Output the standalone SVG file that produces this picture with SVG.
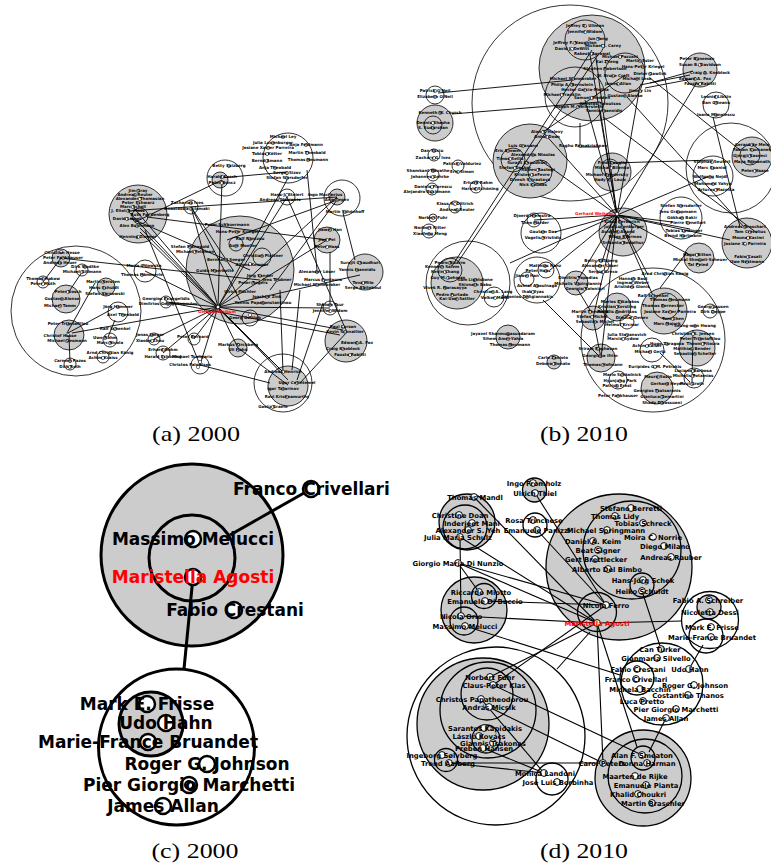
<svg xmlns="http://www.w3.org/2000/svg" xmlns:xlink="http://www.w3.org/1999/xlink" width="771" height="865" viewBox="0 0 771 865">
<style>
.ga{fill:#cccccc;stroke:#000;stroke-width:0.8}
.wa{fill:none;stroke:#000;stroke-width:0.8}
.ea path{fill:none;stroke:#000;stroke-width:0.9}
.gd{fill:#cccccc;stroke:#000;stroke-width:1.3}
.wd{fill:none;stroke:#000;stroke-width:1.3}
.ed path{fill:none;stroke:#000;stroke-width:1.1}
.gc{fill:#cccccc;stroke:#000;stroke-width:3}
.wc{fill:none;stroke:#000;stroke-width:3}
.ec path{fill:none;stroke:#000;stroke-width:3}
.s{font-family:"DejaVu Sans",sans-serif;font-weight:bold;font-size:4px;text-anchor:middle;fill:#000}
.m{font-family:"DejaVu Sans",sans-serif;font-weight:bold;font-size:6.8px;text-anchor:middle;fill:#000}
.l{font-family:"DejaVu Sans",sans-serif;font-weight:bold;font-size:17px;text-anchor:middle;fill:#000}
.red{fill:#ff0000}
.cap{font-family:"Liberation Serif","Times New Roman",serif;font-size:22px;text-anchor:middle;fill:#000}
</style>
<defs>
<circle id="n4" r="1.7" fill="#fff" stroke="#000" stroke-width="0.5"/>
<circle id="n7" r="3.4" fill="#fff" stroke="#000" stroke-width="1"/>
<circle id="n17" r="8" fill="#fff" stroke="#000" stroke-width="2.5"/>
</defs>
<rect width="771" height="865" fill="#fff"/>

<!-- ================= PANEL A ================= -->
<g id="panel-a">
<g id="a-cluster-shapes">
<circle class="wa" cx="76" cy="311" r="65"/>
<circle class="ga" cx="61" cy="258" r="9"/>
<circle class="ga" cx="66" cy="299" r="14"/>
<circle class="ga" cx="69" cy="335" r="15"/>
<circle class="ga" cx="106" cy="287" r="9"/>
<circle class="wa" cx="118" cy="312" r="10"/>
<circle class="wa" cx="43" cy="282" r="6"/>
<circle class="wa" cx="82" cy="270" r="6"/>
<circle class="wa" cx="110" cy="340" r="7"/>
<circle class="wa" cx="103" cy="357" r="6"/>
<circle class="wa" cx="70" cy="364" r="6"/>
<circle class="ga" cx="138" cy="214" r="29"/>
<circle class="wa" cx="140" cy="216" r="8"/>
<circle class="wa" cx="145" cy="271" r="11"/>
<circle class="wa" cx="166" cy="302" r="6"/>
<circle class="ga" cx="240" cy="270" r="54"/>
<circle class="wa" cx="262" cy="257" r="9"/>
<circle class="wa" cx="236" cy="244" r="7"/>
<circle class="wa" cx="250" cy="318" r="8"/>
<circle class="wa" cx="288" cy="158" r="25"/>
<circle class="wa" cx="225" cy="178" r="18"/>
<circle class="ga" cx="220" cy="180" r="8"/>
<circle class="wa" cx="342" cy="198" r="18"/>
<circle class="ga" cx="337" cy="197" r="8"/>
<circle class="wa" cx="287" cy="197" r="8"/>
<circle class="wa" cx="191" cy="207" r="7"/>
<circle class="ga" cx="327" cy="240" r="13"/>
<circle class="ga" cx="365" cy="272" r="18"/>
<circle class="ga" cx="346" cy="341" r="21"/>
<circle class="wa" cx="283" cy="383" r="29"/>
<circle class="ga" cx="288" cy="386" r="20"/>
<circle class="ga" cx="238" cy="348" r="9"/>
<circle class="wa" cx="163" cy="353" r="7"/>
<circle class="wa" cx="200" cy="365" r="9"/>
<circle class="wa" cx="154" cy="339" r="6"/>
<circle class="wa" cx="194" cy="339" r="6"/>
<circle class="wa" cx="330" cy="308" r="7"/>
</g>
<g id="a-connectors" class="ea">
<path d="M218,307 L128,211"/><path d="M218,307 L133,207"/><path d="M218,307 L140,228"/>
<path d="M218,307 L222,180"/><path d="M218,307 L191,207"/><path d="M218,307 L287,197"/>
<path d="M218,307 L288,178"/><path d="M218,307 L337,197"/><path d="M218,307 L327,240"/>
<path d="M218,307 L360,275"/><path d="M218,307 L343,330"/><path d="M218,307 L288,380"/>
<path d="M218,307 L283,372"/><path d="M218,307 L238,348"/><path d="M218,307 L200,365"/>
<path d="M218,307 L163,353"/><path d="M218,307 L166,302"/><path d="M218,307 L145,271"/>
<path d="M218,307 L72,333"/><path d="M218,307 L330,308"/><path d="M218,307 L194,339"/>
<path d="M60,258 L260,280"/><path d="M145,230 L200,365"/><path d="M130,218 L250,270"/>
<path d="M147,217 L327,240"/><path d="M68,333 L114,308"/><path d="M95,283 L67,333"/>
<path d="M82,272 L70,290"/><path d="M61,258 L43,282"/><path d="M115,320 L108,337"/>
<path d="M69,335 L70,363"/><path d="M220,178 L287,172"/><path d="M191,207 L240,300"/>
<path d="M191,207 L233,270"/><path d="M287,197 L346,330"/><path d="M337,200 L227,240"/>
<path d="M337,200 L270,290"/><path d="M343,213 L355,260"/><path d="M307,170 L317,270"/>
<path d="M140,232 L283,372"/><path d="M166,302 L340,335"/><path d="M283,372 L280,290"/>
<path d="M292,370 L300,290"/><path d="M297,380 L323,303"/><path d="M347,332 L300,383"/>
<path d="M238,348 L288,385"/><path d="M200,365 L270,383"/><path d="M330,252 L330,305"/>
<path d="M128,211 L337,197"/><path d="M135,222 L222,180"/><path d="M154,339 L218,307"/>
</g>
<g id="a-n-left">
<use href="#n4" x="61" y="252"/><text class="s" x="62" y="254">Christian Hesse</text>
<use href="#n4" x="63" y="258"/><text class="s" x="63" y="259">Peter Fankhauser</text>
<use href="#n4" x="60" y="263"/><text class="s" x="60" y="264">Andreas Heuer</text>
<use href="#n4" x="85" y="267"/><text class="s" x="85" y="268">Dirk Wodtke</text>
<use href="#n4" x="82" y="272"/><text class="s" x="82" y="273">Michael Gillmann</text>
<use href="#n4" x="43" y="279"/><text class="s" x="43" y="280">Thomas Rakow</text>
<use href="#n4" x="43" y="284"/><text class="s" x="43" y="285">Peter Muth</text>
<use href="#n4" x="68" y="292"/><text class="s" x="68" y="293">Peter Bosch</text>
<use href="#n4" x="62" y="299"/><text class="s" x="62" y="300">Gustavo Alonso</text>
<use href="#n4" x="60" y="306"/><text class="s" x="60" y="307">Michael Tamm</text>
<use href="#n4" x="103" y="282"/><text class="s" x="103" y="283">Martin Kersten</text>
<use href="#n4" x="104" y="288"/><text class="s" x="104" y="289">Hans Schuldt</text>
<use href="#n4" x="105" y="294"/><text class="s" x="105" y="295">Stefan Sarnowski</text>
<use href="#n4" x="118" y="307"/><text class="s" x="118" y="308">Jörg Hammer</text>
<use href="#n4" x="123" y="315"/><text class="s" x="123" y="316">Axel Theobald</text>
<use href="#n4" x="68" y="324"/><text class="s" x="68" y="325">Peter Triantafillou</text>
<use href="#n4" x="68" y="335"/><text class="s" x="60" y="337">Christof Hasse</text>
<use href="#n4" x="67" y="341"/><text class="s" x="67" y="342">Michael Gesmann</text>
<use href="#n4" x="115" y="329"/><text class="s" x="115" y="330">Ralf Schenkel</text>
<use href="#n4" x="105" y="338"/><text class="s" x="105" y="339">Uwe Röhm</text>
<use href="#n4" x="110" y="343"/><text class="s" x="110" y="344">Marc Nicola</text>
<use href="#n4" x="110" y="353"/><text class="s" x="110" y="354">Arnd Christian König</text>
<use href="#n4" x="103" y="358"/><text class="s" x="103" y="359">Achim Kraiss</text>
<use href="#n4" x="70" y="361"/><text class="s" x="70" y="362">Carmen Pazos</text>
<use href="#n4" x="70" y="367"/><text class="s" x="70" y="368">Dirk Roth</text>
</g>
<g id="a-n-top">
<use href="#n4" x="138" y="191"/><text class="s" x="138" y="192">Jim Gray</text>
<use href="#n4" x="135" y="195"/><text class="s" x="135" y="196">Andreas Reuter</text>
<use href="#n4" x="140" y="199"/><text class="s" x="140" y="200">Alexander Thomasian</text>
<use href="#n4" x="138" y="203"/><text class="s" x="138" y="204">Peter Schwarz</text>
<use href="#n4" x="133" y="207"/><text class="s" x="133" y="208">Marc Scholl</text>
<use href="#n4" x="128" y="211"/><text class="s" x="128" y="212">J. Eliot B. Moss</text>
<use href="#n4" x="150" y="215"/><text class="s" x="150" y="216">Ruth Fandenberg</text>
<use href="#n4" x="127" y="219"/><text class="s" x="127" y="220">David Lomet</text>
<use href="#n4" x="137" y="226"/><text class="s" x="137" y="227">Alex Buchmann</text>
<use href="#n4" x="138" y="237"/><text class="s" x="138" y="238">Henning Zimmer</text>
</g>
<g id="a-n-middle">
<use href="#n4" x="144" y="266"/><text class="s" x="144" y="267">Maria Orlowska</text>
<use href="#n4" x="142" y="275"/><text class="s" x="142" y="276">Thomas Hämmerle</text>
<use href="#n4" x="166" y="299"/><text class="s" x="166" y="300">Georgios Evangelidis</text>
<use href="#n4" x="168" y="304"/><text class="s" x="168" y="305">Dimitrios Georgakopoulos</text>
<use href="#n4" x="152" y="335"/><text class="s" x="150" y="336">Jonas Jaeger</text>
<use href="#n4" x="152" y="341"/><text class="s" x="150" y="342">Xiaobo Zhou</text>
<use href="#n4" x="193" y="337"/><text class="s" x="193" y="338">Peter Bernard</text>
<use href="#n4" x="163" y="350"/><text class="s" x="163" y="351">Erhard Rahm</text>
<use href="#n4" x="163" y="357"/><text class="s" x="163" y="358">Harald Schöning</text>
<use href="#n4" x="200" y="362"/><text class="s" x="192" y="358">Michael Tsangaris</text>
<use href="#n4" x="198" y="367"/><text class="s" x="190" y="366">Christos Faloutsos</text>
</g>
<g id="a-n-center">
<use href="#n4" x="227" y="225"/><text class="s" x="227" y="226">Peter Scheuermann</text>
<use href="#n4" x="237" y="232"/><text class="s" x="237" y="233">Hans-Peter Kriegel</text>
<use href="#n4" x="250" y="239"/><text class="s" x="250" y="240">Ralf Rantzau</text>
<use href="#n4" x="236" y="246"/><text class="s" x="243" y="247">Axel Moeller</text>
<use href="#n4" x="190" y="247"/><text class="s" x="190" y="248">Stefan Manegold</text>
<use href="#n4" x="195" y="252"/><text class="s" x="195" y="253">Michael Feldman</text>
<use href="#n4" x="262" y="256"/><text class="s" x="263" y="257">Christian Plattner</text>
<use href="#n4" x="226" y="260"/><text class="s" x="226" y="261">Bernhard Seeger</text>
<use href="#n4" x="250" y="264"/><text class="s" x="252" y="266">Alfons Kemper</text>
<use href="#n4" x="215" y="271"/><text class="s" x="215" y="272">Guido Moerkotte</text>
<use href="#n4" x="260" y="276"/><text class="s" x="260" y="277">Jörg Sander</text>
<use href="#n4" x="277" y="280"/><text class="s" x="277" y="281">Jens Teubner</text>
<use href="#n4" x="253" y="283"/><text class="s" x="253" y="284">Peter Rogers</text>
<use href="#n4" x="240" y="292"/><text class="s" x="240" y="293">Ulrich Küchler</text>
<use href="#n4" x="267" y="297"/><text class="s" x="267" y="298">Joachim Zink</text>
<use href="#n4" x="263" y="303"/><text class="s" x="263" y="304">Yannis Papakonstantinou</text>
<use href="#n4" x="250" y="315"/><text class="s" x="245" y="319">Georg Gottlob</text>
</g>
<g id="a-n-upper">
<use href="#n4" x="283" y="137"/><text class="s" x="283" y="138">Michael Ley</text>
<use href="#n4" x="273" y="143"/><text class="s" x="273" y="144">Julia Luxenburger</text>
<use href="#n4" x="268" y="148"/><text class="s" x="268" y="149">Josiane Xavier Parreira</text>
<use href="#n4" x="306" y="145"/><text class="s" x="306" y="146">Anja Feldmann</text>
<use href="#n4" x="267" y="154"/><text class="s" x="267" y="155">Tobias Kötter</text>
<use href="#n4" x="307" y="153"/><text class="s" x="307" y="154">Martin Theobald</text>
<use href="#n4" x="308" y="160"/><text class="s" x="308" y="161">Thomas Neumann</text>
<use href="#n4" x="267" y="161"/><text class="s" x="267" y="162">Bernd Amann</text>
<use href="#n4" x="275" y="168"/><text class="s" x="275" y="169">Anja Theobald</text>
<use href="#n4" x="287" y="173"/><text class="s" x="287" y="174">Sergej Sizov</text>
<use href="#n4" x="287" y="178"/><text class="s" x="287" y="179">Stefan Siersdorfer</text>
<use href="#n4" x="229" y="166"/><text class="s" x="229" y="167">Betty Salzberg</text>
<use href="#n4" x="222" y="177"/><text class="s" x="222" y="178">Harald Kosch</text>
<use href="#n4" x="222" y="183"/><text class="s" x="222" y="184">Peter Boncz</text>
<use href="#n4" x="287" y="195"/><text class="s" x="287" y="196">Hans-J. Steiert</text>
<use href="#n4" x="280" y="200"/><text class="s" x="280" y="201">Andreas Oberweis</text>
<use href="#n4" x="330" y="195"/><text class="s" x="325" y="196">Ingo Macherius</text>
<use href="#n4" x="337" y="200"/><text class="s" x="337" y="201">Arie Segev</text>
<use href="#n4" x="345" y="212"/><text class="s" x="345" y="213">Martin Schönhoff</text>
<use href="#n4" x="191" y="203"/><text class="s" x="187" y="204">Zacharias Ives</text>
<use href="#n4" x="191" y="209"/><text class="s" x="187" y="210">Anastassia Ailamaki</text>
</g>
<g id="a-n-right">
<use href="#n4" x="330" y="230"/><text class="s" x="330" y="231">Jiawei Han</text>
<use href="#n4" x="327" y="240"/><text class="s" x="327" y="241">Jian Pei</text>
<use href="#n4" x="327" y="247"/><text class="s" x="327" y="248">Peter Haas</text>
<use href="#n4" x="360" y="263"/><text class="s" x="360" y="264">Surajit Chaudhuri</text>
<use href="#n4" x="357" y="270"/><text class="s" x="357" y="271">Yannis Ioannidis</text>
<use href="#n4" x="363" y="283"/><text class="s" x="363" y="284">Tova Milo</text>
<use href="#n4" x="363" y="288"/><text class="s" x="363" y="289">Serge Abiteboul</text>
<use href="#n4" x="317" y="272"/><text class="s" x="317" y="273">Alexander Löser</text>
<use href="#n4" x="323" y="280"/><text class="s" x="323" y="281">Marcus Fontoura</text>
<use href="#n4" x="317" y="285"/><text class="s" x="317" y="286">Michael Stonebraker</text>
<use href="#n4" x="330" y="305"/><text class="s" x="330" y="306">Shalom Tsur</text>
<use href="#n4" x="330" y="311"/><text class="s" x="330" y="312">Jennifer Widom</text>
<use href="#n4" x="343" y="327"/><text class="s" x="343" y="328">Paul Larson</text>
<use href="#n4" x="345" y="332"/><text class="s" x="345" y="333">Kevin Schnaitter</text>
<use href="#n4" x="357" y="343"/><text class="s" x="357" y="344">Edward A. Fox</text>
<use href="#n4" x="343" y="349"/><text class="s" x="343" y="350">Craig Knoblock</text>
<use href="#n4" x="350" y="355"/><text class="s" x="350" y="356">Fausto Rabitti</text>
<use href="#n4" x="238" y="345"/><text class="s" x="238" y="346">Markus Kirchberg</text>
<use href="#n4" x="238" y="350"/><text class="s" x="238" y="351">Uli Hahn</text>
<use href="#n4" x="283" y="372"/><text class="s" x="283" y="373">Andreas Henrich</text>
<use href="#n4" x="297" y="383"/><text class="s" x="297" y="384">Ugur Cetintemel</text>
<use href="#n4" x="283" y="389"/><text class="s" x="283" y="390">Igor Tatarinov</text>
<use href="#n4" x="287" y="397"/><text class="s" x="287" y="398">Ravi Krishnamurthy</text>
<use href="#n4" x="273" y="407"/><text class="s" x="273" y="408">Goetz Graefe</text>
</g>
<g id="a-n-weikum">
<use href="#n4" x="218" y="307"/><text class="s red" x="217" y="313">Gerhard Weikum</text>
</g>
<text class="cap" x="196" y="441" textLength="88" lengthAdjust="spacingAndGlyphs">(a) 2000</text>
</g>

<!-- ================= PANEL B ================= -->
<g id="panel-b">
<g id="b-cluster-shapes">
<circle class="wa" cx="570" cy="103" r="98"/>
<circle class="ga" cx="592" cy="68" r="53"/>
<circle class="wa" cx="585" cy="40" r="20"/>
<circle class="wa" cx="575" cy="97" r="30"/>
<circle class="wa" cx="625" cy="73" r="20"/>
<circle class="ga" cx="530" cy="161" r="37"/>
<circle class="wa" cx="513" cy="160" r="12"/>
<circle class="wa" cx="540" cy="172" r="12"/>
<circle class="wa" cx="435" cy="95" r="9"/>
<circle class="ga" cx="435" cy="123" r="18"/>
<circle class="wa" cx="433" cy="125" r="9"/>
<circle class="wa" cx="434" cy="155" r="6"/>
<circle class="wa" cx="458" cy="166" r="6"/>
<circle class="wa" cx="433" cy="175" r="6"/>
<circle class="wa" cx="476" cy="187" r="6"/>
<circle class="wa" cx="432" cy="189" r="6"/>
<circle class="wa" cx="455" cy="207" r="6"/>
<circle class="wa" cx="433" cy="218" r="4"/>
<circle class="wa" cx="429" cy="231" r="7"/>
<circle class="ga" cx="700" cy="70" r="17"/>
<circle class="wa" cx="716" cy="105" r="13"/>
<circle class="wa" cx="731" cy="168" r="45"/>
<circle class="ga" cx="752" cy="157" r="20"/>
<circle class="wa" cx="750" cy="155" r="10"/>
<circle class="wa" cx="713" cy="176" r="20"/>
<circle class="ga" cx="612" cy="172" r="19"/>
<circle class="wa" cx="610" cy="168" r="9"/>
<circle class="ga" cx="623" cy="232" r="24"/>
<circle class="wa" cx="621" cy="228" r="11"/>
<circle class="wa" cx="681" cy="218" r="21"/>
<circle class="ga" cx="747" cy="243" r="25"/>
<circle class="ga" cx="699" cy="258" r="15"/>
<circle class="wa" cx="653" cy="340" r="72"/>
<circle class="ga" cx="664" cy="311" r="23"/>
<circle class="wa" cx="666" cy="306" r="13"/>
<circle class="ga" cx="617" cy="307" r="14"/>
<circle class="ga" cx="697" cy="348" r="18"/>
<circle class="wa" cx="652" cy="350" r="12"/>
<circle class="ga" cx="657" cy="388" r="16"/>
<circle class="wa" cx="618" cy="380" r="9"/>
<circle class="wa" cx="694" cy="378" r="10"/>
<circle class="wa" cx="710" cy="311" r="7"/>
<circle class="wa" cx="627" cy="322" r="7"/>
<circle class="ga" cx="576" cy="283" r="12"/>
<circle class="ga" cx="593" cy="318" r="12"/>
<circle class="ga" cx="601" cy="358" r="14"/>
<circle class="wa" cx="602" cy="266" r="7"/>
<circle class="wa" cx="468" cy="283" r="42"/>
<circle class="ga" cx="457" cy="283" r="26"/>
<circle class="wa" cx="450" cy="270" r="12"/>
<circle class="wa" cx="494" cy="297" r="10"/>
<circle class="wa" cx="541" cy="233" r="20"/>
<circle class="wa" cx="534" cy="220" r="7"/>
<circle class="wa" cx="537" cy="280" r="23"/>
<circle class="wa" cx="546" cy="270" r="8"/>
<circle class="wa" cx="527" cy="279" r="7"/>
<circle class="ga" cx="508" cy="337" r="12"/>
<circle class="ga" cx="554" cy="362" r="7"/>
</g>
<g id="b-connectors" class="ea">
<path d="M438,93 L573,80"/><path d="M452,114 L600,102"/><path d="M452,266 L592,50"/>
<path d="M458,262 L598,55"/><path d="M543,132 L625,75"/><path d="M543,132 L617,215"/>
<path d="M580,123 L580,147"/><path d="M617,215 L600,110"/><path d="M617,215 L585,100"/>
<path d="M617,215 L640,86"/><path d="M617,215 L697,82"/><path d="M640,85 L690,75"/>
<path d="M645,88 L692,79"/><path d="M650,83 L693,71"/><path d="M650,78 L740,150"/>
<path d="M603,117 L757,233"/><path d="M627,97 L745,228"/><path d="M613,163 L713,160"/>
<path d="M617,215 L707,177"/><path d="M617,215 L672,222"/><path d="M617,215 L690,229"/>
<path d="M617,215 L730,240"/><path d="M713,117 L740,227"/><path d="M617,215 L690,255"/>
<path d="M617,215 L576,283"/><path d="M617,215 L593,318"/><path d="M617,215 L601,358"/>
<path d="M617,215 L555,232"/><path d="M617,215 L550,270"/><path d="M617,215 L510,263"/>
<path d="M543,300 L601,358"/><path d="M578,290 L590,310"/><path d="M593,318 L601,358"/>
<path d="M617,215 L655,300"/><path d="M660,288 L687,252"/><path d="M660,353 L690,382"/>
<path d="M693,330 L692,383"/><path d="M617,215 L648,275"/><path d="M617,215 L602,262"/>
<path d="M540,160 L617,215"/><path d="M590,55 L617,215"/><path d="M596,58 L617,215"/>
<path d="M534,220 L617,215"/><path d="M580,147 L600,147"/>
</g>
<g id="b-n-top">
<use href="#n4" x="585" y="26"/><text class="s" x="585" y="27">Jeffrey D. Ullman</text>
<use href="#n4" x="585" y="32"/><text class="s" x="585" y="33">Jennifer Widom</text>
<use href="#n4" x="598" y="39"/><text class="s" x="598" y="40">Jun Yang</text>
<use href="#n4" x="575" y="43"/><text class="s" x="575" y="44">Jeffrey F. Naughton</text>
<use href="#n4" x="603" y="46"/><text class="s" x="603" y="47">Michael J. Carey</text>
<use href="#n4" x="572" y="49"/><text class="s" x="572" y="50">David J. DeWitt</text>
<use href="#n4" x="592" y="54"/><text class="s" x="592" y="55">Rakesh Agrawal</text>
<use href="#n4" x="620" y="57"/><text class="s" x="620" y="58">Michael Pazzani</text>
<use href="#n4" x="640" y="61"/><text class="s" x="640" y="62">Martin Ester</text>
<use href="#n4" x="607" y="62"/><text class="s" x="607" y="63">Kai Zheng</text>
<use href="#n4" x="643" y="67"/><text class="s" x="643" y="68">Hans-Peter Kriegel</text>
<use href="#n4" x="605" y="69"/><text class="s" x="605" y="70">Stephen Robertson</text>
<use href="#n4" x="650" y="74"/><text class="s" x="650" y="75">Dieter Gawlick</text>
<use href="#n4" x="613" y="76"/><text class="s" x="613" y="77">W. Bruce Croft</text>
<use href="#n4" x="637" y="79"/><text class="s" x="637" y="80">Michael Lesk</text>
<use href="#n4" x="573" y="79"/><text class="s" x="573" y="80">Michael Stonebraker</text>
<use href="#n4" x="618" y="84"/><text class="s" x="618" y="85">James Allan</text>
<use href="#n4" x="572" y="85"/><text class="s" x="572" y="86">Philip A. Bernstein</text>
<use href="#n4" x="585" y="90"/><text class="s" x="585" y="91">Hector Garcia-Molina</text>
<use href="#n4" x="640" y="91"/><text class="s" x="640" y="92">Jimmy Lin</text>
<use href="#n4" x="562" y="95"/><text class="s" x="562" y="96">Michael Franklin</text>
<use href="#n4" x="625" y="96"/><text class="s" x="625" y="97">Gustavo Alonso</text>
<use href="#n4" x="592" y="98"/><text class="s" x="592" y="99">Samuel Madden</text>
<use href="#n4" x="600" y="104"/><text class="s" x="600" y="105">Christos Faloutsos</text>
<use href="#n4" x="578" y="107"/><text class="s" x="578" y="108">Joseph M. Hellerstein</text>
<use href="#n4" x="604" y="111"/><text class="s" x="604" y="112">Yannis Ioannidis</text>
</g>
<g id="b-n-alon">
<use href="#n4" x="543" y="132"/><text class="s" x="547" y="133">Alon Y. Halevy</text>
<use href="#n4" x="547" y="137"/><text class="s" x="547" y="138">Anhai Doan</text>
<use href="#n4" x="580" y="146"/><text class="s" x="583" y="147">Raghu Ramakrishnan</text>
<use href="#n4" x="523" y="146"/><text class="s" x="523" y="147">Luis Gravano</text>
<use href="#n4" x="508" y="151"/><text class="s" x="508" y="152">Eric Brewer</text>
<use href="#n4" x="533" y="155"/><text class="s" x="533" y="156">Alexandros Ntoulas</text>
<use href="#n4" x="510" y="159"/><text class="s" x="510" y="160">Timos Sellis</text>
<use href="#n4" x="527" y="163"/><text class="s" x="527" y="164">Surajit Chaudhuri</text>
<use href="#n4" x="515" y="168"/><text class="s" x="515" y="169">Stefan Decker</text>
<use href="#n4" x="538" y="170"/><text class="s" x="538" y="171">Rajeev Rastogi</text>
<use href="#n4" x="532" y="175"/><text class="s" x="532" y="176">Kristen LeFevre</text>
<use href="#n4" x="530" y="180"/><text class="s" x="530" y="181">Divesh Srivastava</text>
<use href="#n4" x="533" y="185"/><text class="s" x="533" y="186">Nick Koudas</text>
</g>
<g id="b-n-left">
<use href="#n4" x="435" y="91"/><text class="s" x="435" y="92">Patrick O'Neil</text>
<use href="#n4" x="435" y="97"/><text class="s" x="435" y="98">Elizabeth O'Neil</text>
<use href="#n4" x="440" y="113"/><text class="s" x="440" y="114">Kenneth W. Church</text>
<use href="#n4" x="433" y="123"/><text class="s" x="433" y="124">Dennis Shasha</text>
<use href="#n4" x="433" y="128"/><text class="s" x="433" y="129">S. Sudarshan</text>
<use href="#n4" x="434" y="151"/><text class="s" x="432" y="152">Dan Suciu</text>
<use href="#n4" x="434" y="158"/><text class="s" x="433" y="159">Zachary G. Ives</text>
<use href="#n4" x="458" y="164"/><text class="s" x="462" y="165">Patrick Valduriez</text>
<use href="#n4" x="433" y="171"/><text class="s" x="428" y="172">Shamkant Navathe</text>
<use href="#n4" x="458" y="172"/><text class="s" x="462" y="173">Eric Simon</text>
<use href="#n4" x="433" y="177"/><text class="s" x="430" y="178">Johannes Gehrke</text>
<use href="#n4" x="476" y="183"/><text class="s" x="478" y="184">Erhard Rahm</text>
<use href="#n4" x="432" y="187"/><text class="s" x="433" y="188">Daniela Florescu</text>
<use href="#n4" x="476" y="189"/><text class="s" x="480" y="190">Harald Schöning</text>
<use href="#n4" x="432" y="192"/><text class="s" x="427" y="193">Alejandro Buchmann</text>
<use href="#n4" x="455" y="204"/><text class="s" x="455" y="205">Klaus R. Dittrich</text>
<use href="#n4" x="457" y="210"/><text class="s" x="457" y="211">Andreas Reuter</text>
<use href="#n4" x="433" y="218"/><text class="s" x="433" y="219">Norbert Fuhr</text>
<use href="#n4" x="429" y="228"/><text class="s" x="430" y="229">Norbert Ritter</text>
<use href="#n4" x="429" y="234"/><text class="s" x="430" y="235">Xiaofeng Meng</text>
</g>
<g id="b-n-right">
<use href="#n4" x="697" y="59"/><text class="s" x="697" y="60">Peter Buneman</text>
<use href="#n4" x="700" y="65"/><text class="s" x="700" y="66">Susan B. Davidson</text>
<use href="#n4" x="705" y="73"/><text class="s" x="710" y="74">Craig A. Knoblock</text>
<use href="#n4" x="695" y="79"/><text class="s" x="695" y="80">Edward A. Fox</text>
<use href="#n4" x="700" y="84"/><text class="s" x="700" y="85">Fausto Rabitti</text>
<use href="#n4" x="716" y="97"/><text class="s" x="716" y="98">Leonid Libkin</text>
<use href="#n4" x="716" y="103"/><text class="s" x="716" y="104">Dan Olteanu</text>
<use href="#n4" x="716" y="115"/><text class="s" x="716" y="116">Ioana Manolescu</text>
<use href="#n4" x="752" y="145"/><text class="s" x="752" y="146">Gerard de Melo</text>
<use href="#n4" x="752" y="150"/><text class="s" x="752" y="151">Fabian Suchanek</text>
<use href="#n4" x="750" y="156"/><text class="s" x="750" y="157">Gjergji Kasneci</text>
<use href="#n4" x="752" y="162"/><text class="s" x="752" y="163">Maya Ramanath</text>
<use href="#n4" x="755" y="171"/><text class="s" x="755" y="172">Peter Haase</text>
<use href="#n4" x="712" y="162"/><text class="s" x="712" y="163">Stephan Seufert</text>
<use href="#n4" x="712" y="168"/><text class="s" x="712" y="169">Marc Spaniol</text>
<use href="#n4" x="710" y="177"/><text class="s" x="710" y="178">Wolfgang Nejdl</text>
<use href="#n4" x="713" y="184"/><text class="s" x="713" y="185">Mohamed Yahya</text>
<use href="#n4" x="716" y="190"/><text class="s" x="716" y="191">Arturas Mazeika</text>
<use href="#n4" x="612" y="163"/><text class="s" x="612" y="164">Fred Douglis</text>
<use href="#n4" x="611" y="168"/><text class="s" x="612" y="169">Mikhail Bilenko</text>
<use href="#n4" x="607" y="175"/><text class="s" x="607" y="176">Michael Bendersky</text>
<use href="#n4" x="610" y="180"/><text class="s" x="610" y="181">Hady W. Lauw</text>
</g>
<g id="b-n-hub">
<use href="#n4" x="620" y="222"/><text class="s" x="622" y="223">Klaus Berberich</text>
<use href="#n4" x="622" y="227"/><text class="s" x="624" y="228">Julia Luxenburger</text>
<use href="#n4" x="618" y="232"/><text class="s" x="618" y="233">Avishek Anand</text>
<use href="#n4" x="625" y="237"/><text class="s" x="625" y="238">Nikos Ntarmos</text>
<use href="#n4" x="623" y="243"/><text class="s" x="623" y="244">Srikanta Bedathur</text>
<use href="#n4" x="681" y="206"/><text class="s" x="681" y="207">Stefan Siersdorfer</text>
<use href="#n4" x="678" y="212"/><text class="s" x="678" y="213">Jens Graupmann</text>
<use href="#n4" x="682" y="218"/><text class="s" x="682" y="219">Gökhan Bakir</text>
<use href="#n4" x="688" y="223"/><text class="s" x="688" y="224">Pierre Senellart</text>
<use href="#n4" x="684" y="231"/><text class="s" x="684" y="232">Tobias Leidinger</text>
<use href="#n4" x="683" y="236"/><text class="s" x="683" y="237">Bernd Hartmann</text>
<use href="#n4" x="745" y="227"/><text class="s" x="745" y="228">Andreas Broschart</text>
<use href="#n4" x="750" y="232"/><text class="s" x="750" y="233">Tom Crecelius</text>
<use href="#n4" x="748" y="238"/><text class="s" x="748" y="239">Mouna Kacimi</text>
<use href="#n4" x="745" y="244"/><text class="s" x="745" y="245">Josiane X. Parreira</text>
<use href="#n4" x="748" y="257"/><text class="s" x="748" y="258">Fabio Casati</text>
<use href="#n4" x="747" y="262"/><text class="s" x="747" y="263">Uwe Nestmann</text>
<use href="#n4" x="697" y="255"/><text class="s" x="697" y="256">Hagai Bitton</text>
<use href="#n4" x="700" y="260"/><text class="s" x="700" y="261">Michal Shmueli-Scheuer</text>
<use href="#n4" x="698" y="265"/><text class="s" x="698" y="266">Tal Peled</text>
<use href="#n4" x="601" y="261"/><text class="s" x="601" y="262">Betty Salzberg</text>
<use href="#n4" x="600" y="266"/><text class="s" x="600" y="267">Alexander Löser</text>
<use href="#n4" x="603" y="272"/><text class="s" x="603" y="273">Sergio Greco</text>
<use href="#n4" x="617" y="214"/><text class="s red" x="594" y="215">Gerhard Weikum</text>
</g>
<g id="b-n-lower">
<use href="#n4" x="578" y="278"/><text class="s" x="578" y="279">Dimitris Papadias</text>
<use href="#n4" x="578" y="284"/><text class="s" x="578" y="285">Michalis Vazirgiannis</text>
<use href="#n4" x="585" y="289"/><text class="s" x="585" y="290">Georgia Koloniari</text>
<use href="#n4" x="590" y="312"/><text class="s" x="590" y="313">Martin Theobald</text>
<use href="#n4" x="592" y="317"/><text class="s" x="592" y="318">Stefan Michel</text>
<use href="#n4" x="595" y="322"/><text class="s" x="595" y="323">Sebastian Michel</text>
<use href="#n4" x="598" y="349"/><text class="s" x="598" y="350">Sriram Raghavan</text>
<use href="#n4" x="600" y="356"/><text class="s" x="600" y="357">Georgiana Ifrim</text>
<use href="#n4" x="603" y="365"/><text class="s" x="603" y="366">Thomas Hofmann</text>
<use href="#n4" x="665" y="274"/><text class="s" x="665" y="275">Arnd Christian König</text>
<use href="#n4" x="633" y="279"/><text class="s" x="633" y="280">Hannah Bast</text>
<use href="#n4" x="633" y="283"/><text class="s" x="633" y="284">Ingmar Weber</text>
<use href="#n4" x="632" y="287"/><text class="s" x="632" y="288">Aristides Gionis</text>
<use href="#n4" x="653" y="296"/><text class="s" x="653" y="297">Ralf Schenkel</text>
<use href="#n4" x="670" y="300"/><text class="s" x="670" y="301">Thomas Neumann</text>
<use href="#n4" x="663" y="306"/><text class="s" x="663" y="307">Thomas Bernecker</text>
<use href="#n4" x="670" y="312"/><text class="s" x="670" y="313">Josiane Xavier Parreira</text>
<use href="#n4" x="673" y="319"/><text class="s" x="673" y="320">Tom Chen</text>
<use href="#n4" x="667" y="324"/><text class="s" x="667" y="325">Marc Najork</text>
<use href="#n4" x="713" y="307"/><text class="s" x="713" y="308">Georg Lausen</text>
<use href="#n4" x="713" y="312"/><text class="s" x="713" y="313">Dirk Deppe</text>
<use href="#n4" x="620" y="302"/><text class="s" x="620" y="303">Marios Dikaiakos</text>
<use href="#n4" x="617" y="307"/><text class="s" x="617" y="308">Kristian Kersting</text>
<use href="#n4" x="617" y="312"/><text class="s" x="617" y="313">Periklis Andritsos</text>
<use href="#n4" x="632" y="318"/><text class="s" x="632" y="319">Dimitar Denev</text>
<use href="#n4" x="622" y="325"/><text class="s" x="622" y="326">Helmut Krcmar</text>
<use href="#n4" x="695" y="326"/><text class="s" x="695" y="327">Seung-won Hwang</text>
<use href="#n4" x="693" y="334"/><text class="s" x="693" y="335">Christian S. Jensen</text>
<use href="#n4" x="700" y="339"/><text class="s" x="700" y="340">Peter Triantafillou</text>
<use href="#n4" x="703" y="344"/><text class="s" x="703" y="345">Theoni Pitoura</text>
<use href="#n4" x="692" y="349"/><text class="s" x="692" y="350">Matthias Bender</text>
<use href="#n4" x="695" y="354"/><text class="s" x="695" y="355">Sebastian Schelter</text>
<use href="#n4" x="627" y="335"/><text class="s" x="627" y="336">Julia Stoyanovich</text>
<use href="#n4" x="623" y="339"/><text class="s" x="623" y="340">Marcin Sydow</text>
<use href="#n4" x="647" y="346"/><text class="s" x="647" y="347">Achim Kaiser</text>
<use href="#n4" x="667" y="344"/><text class="s" x="667" y="345">Hugo Zaragoza</text>
<use href="#n4" x="650" y="352"/><text class="s" x="650" y="353">Michael Gertz</text>
<use href="#n4" x="655" y="367"/><text class="s" x="655" y="368">Euripides G.M. Petrakis</text>
<use href="#n4" x="622" y="375"/><text class="s" x="622" y="376">Mario Schkolnick</text>
<use href="#n4" x="620" y="381"/><text class="s" x="620" y="382">Hyunjung Park</text>
<use href="#n4" x="617" y="386"/><text class="s" x="617" y="387">Patrick Ernst</text>
<use href="#n4" x="618" y="396"/><text class="s" x="618" y="397">Peter Fankhauser</text>
<use href="#n4" x="658" y="377"/><text class="s" x="658" y="378">Mauro Sozio</text>
<use href="#n4" x="667" y="384"/><text class="s" x="667" y="385">Gerhard Heyer</text>
<use href="#n4" x="657" y="391"/><text class="s" x="657" y="392">Georgios Tsatsaronis</text>
<use href="#n4" x="662" y="397"/><text class="s" x="662" y="398">Gianluca Demartini</text>
<use href="#n4" x="662" y="403"/><text class="s" x="662" y="404">Shady Elbassuoni</text>
<use href="#n4" x="693" y="371"/><text class="s" x="693" y="372">Luciano Barbosa</text>
<use href="#n4" x="693" y="376"/><text class="s" x="693" y="377">Michalis Potamias</text>
<use href="#n4" x="692" y="384"/><text class="s" x="692" y="385">Paul Groth</text>
</g>
<g id="b-n-lowerleft">
<use href="#n4" x="534" y="216"/><text class="s" x="532" y="217">Djoerd Hiemstra</text>
<use href="#n4" x="535" y="223"/><text class="s" x="535" y="224">Theo Härder</text>
<use href="#n4" x="543" y="232"/><text class="s" x="543" y="233">Gautam Das</text>
<use href="#n4" x="543" y="238"/><text class="s" x="543" y="239">Vagelis Hristidis</text>
<use href="#n4" x="450" y="263"/><text class="s" x="450" y="264">Pedro Bizarro</text>
<use href="#n4" x="442" y="267"/><text class="s" x="442" y="268">Kenneth Salem</text>
<use href="#n4" x="445" y="272"/><text class="s" x="445" y="273">Kevin Chang</text>
<use href="#n4" x="448" y="278"/><text class="s" x="448" y="279">Guy M. Lohman</text>
<use href="#n4" x="475" y="280"/><text class="s" x="475" y="281">Sam Lightstone</text>
<use href="#n4" x="475" y="285"/><text class="s" x="475" y="286">Shivnath Babu</text>
<use href="#n4" x="445" y="288"/><text class="s" x="445" y="289">Vivek R. Narasayya</text>
<use href="#n4" x="493" y="292"/><text class="s" x="493" y="293">Christian A. Lang</text>
<use href="#n4" x="452" y="295"/><text class="s" x="452" y="296">Pedro Furtado</text>
<use href="#n4" x="495" y="298"/><text class="s" x="495" y="299">Volker Markl</text>
<use href="#n4" x="457" y="299"/><text class="s" x="457" y="300">Kai-Uwe Sattler</text>
<use href="#n4" x="545" y="266"/><text class="s" x="545" y="267">Matthias Renz</text>
<use href="#n4" x="546" y="271"/><text class="s" x="538" y="272">Peter Haas</text>
<use href="#n4" x="527" y="276"/><text class="s" x="527" y="277">Jiawei Han</text>
<use href="#n4" x="537" y="286"/><text class="s" x="537" y="287">Ashraf Aboulnaga</text>
<use href="#n4" x="533" y="292"/><text class="s" x="533" y="293">Ihab Ilyas</text>
<use href="#n4" x="527" y="297"/><text class="s" x="527" y="298">Antonios Deligiannakis</text>
<use href="#n4" x="508" y="334"/><text class="s" x="503" y="335">Jayavel Shanmugasundaram</text>
<use href="#n4" x="508" y="339"/><text class="s" x="503" y="340">Sihem Amer-Yahia</text>
<use href="#n4" x="510" y="345"/><text class="s" x="510" y="346">Thomas Neumann</text>
<use href="#n4" x="554" y="358"/><text class="s" x="553" y="359">Carlo Zaniolo</text>
<use href="#n4" x="554" y="364"/><text class="s" x="553" y="365">Debora Donato</text>
</g>
<text class="cap" x="584" y="441" textLength="88" lengthAdjust="spacingAndGlyphs">(b) 2010</text>
</g>

<!-- ================= PANEL C ================= -->
<g id="panel-c">
<g id="c-cluster-shapes">
<circle class="gc" cx="192" cy="555" r="91"/>
<circle class="wc" cx="192" cy="558" r="43"/>
<circle class="wc" cx="176.5" cy="747" r="78"/>
<circle class="gc" cx="151" cy="724" r="32"/>
</g>
<g id="c-connectors" class="ec">
<path d="M311,489 L230,535"/>
<path d="M193,577 L184,669"/>
</g>
<g id="c-n-massimo-melucci"><use href="#n17" x="193" y="539"/><text class="l" x="193" y="545">Massimo Melucci</text></g>
<g id="c-n-maristella-agosti"><use href="#n17" x="193" y="577"/><text class="l red" x="193" y="583">Maristella Agosti</text></g>
<g id="c-n-fabio-crestani"><use href="#n17" x="234" y="610"/><text class="l" x="235" y="616">Fabio Crestani</text></g>
<g id="c-n-franco-crivellari"><use href="#n17" x="311" y="489"/><text class="l" x="233" y="495" style="text-anchor:start">Franco Crivellari</text></g>
<g id="c-n-mark-frisse"><use href="#n17" x="147" y="704"/><text class="l" x="147" y="710">Mark E. Frisse</text></g>
<g id="c-n-udo-hahn"><use href="#n17" x="166" y="723"/><text class="l" x="166" y="729">Udo Hahn</text></g>
<g id="c-n-marie-france-bruandet"><use href="#n17" x="148" y="742"/><text class="l" x="148" y="748">Marie-France Bruandet</text></g>
<g id="c-n-roger-johnson"><use href="#n17" x="207" y="764"/><text class="l" x="207" y="770">Roger G. Johnson</text></g>
<g id="c-n-pier-giorgio-marchetti"><use href="#n17" x="189" y="785"/><circle cx="189" cy="785" r="4" fill="none" stroke="#000" stroke-width="2"/><text class="l" x="189" y="791">Pier Giorgio Marchetti</text></g>
<g id="c-n-james-allan"><use href="#n17" x="163" y="806"/><text class="l" x="163" y="812">James Allan</text></g>
<text class="cap" x="195" y="858" textLength="87" lengthAdjust="spacingAndGlyphs">(c) 2000</text>
</g>

<!-- ================= PANEL D ================= -->
<g id="panel-d">
<g id="d-cluster-shapes">
<circle class="gd" cx="534.5" cy="490" r="12"/>
<circle class="gd" cx="467" cy="522" r="28"/>
<circle class="wd" cx="465" cy="527" r="22"/>
<circle class="wd" cx="535" cy="525" r="12"/>
<circle class="gd" cx="619" cy="567" r="73"/>
<circle class="wd" cx="632" cy="550" r="49"/>
<circle class="wd" cx="597" cy="612" r="19.5"/>
<circle class="wd" cx="642" cy="585" r="12"/>
<circle class="wd" cx="710" cy="620" r="28.5"/>
<circle class="gd" cx="709" cy="607" r="12"/>
<circle class="wd" cx="706" cy="636" r="17"/>
<circle class="gd" cx="474" cy="610" r="33"/>
<circle class="wd" cx="484" cy="596" r="12.5"/>
<circle class="wd" cx="464" cy="621" r="14"/>
<circle class="wd" cx="496" cy="736" r="89"/>
<circle class="gd" cx="483" cy="724" r="66"/>
<circle class="wd" cx="488" cy="710" r="48"/>
<circle class="wd" cx="487" cy="694" r="26"/>
<circle class="wd" cx="486" cy="739" r="14"/>
<circle class="wd" cx="446" cy="760" r="11.5"/>
<circle class="wd" cx="552" cy="779" r="16"/>
<circle class="gd" cx="643" cy="778" r="48"/>
<circle class="wd" cx="645" cy="776" r="37"/>
<circle class="wd" cx="643" cy="758" r="12"/>
<circle class="wd" cx="662" cy="684" r="41"/>
<circle class="wd" cx="637" cy="678" r="17"/>
</g>
<g id="d-connectors" class="ed">
<path d="M535,493 L606,605"/><path d="M537,530 L606,605"/><path d="M474,497 L597,623"/>
<path d="M460,537 L597,623"/><path d="M460,537 L461,616"/><path d="M458,563 L479,592"/>
<path d="M458,563 L606,605"/><path d="M458,563 L597,623"/><path d="M485,601 L606,605"/>
<path d="M461,616 L597,623"/><path d="M465,626 L620,675"/><path d="M490,677 L597,623"/>
<path d="M493,685 L606,605"/><path d="M557,669 L590,632"/><path d="M493,685 L642,755"/>
<path d="M489,707 L603,763"/><path d="M449,763 L603,763"/><path d="M449,763 L544,773"/>
<path d="M483,748 L544,773"/><path d="M481,699 L544,773"/><path d="M597,623 L603,763"/>
<path d="M597,623 L637,747"/><path d="M597,623 L682,621"/><path d="M703,645 L689,669"/>
<path d="M642,591 L661,649"/><path d="M666,718 L649,752"/>
</g>
<g id="d-n-ingo-fromholz"><use href="#n7" x="533" y="483"/><text class="m" x="534" y="485.5">Ingo Fromholz</text></g>
<g id="d-n-ulrich-thiel"><use href="#n7" x="535" y="493"/><text class="m" x="535" y="495.5">Ulrich Thiel</text></g>
<g id="d-n-thomas-mandl"><use href="#n7" x="474" y="497"/><text class="m" x="475" y="499.5">Thomas Mandl</text></g>
<g id="d-n-christine-doan"><use href="#n7" x="459" y="515"/><text class="m" x="460" y="517.5">Christine Doan</text></g>
<g id="d-n-inderjeet-mani"><use href="#n7" x="472" y="523"/><text class="m" x="472" y="525.5">Inderjeet Mani</text></g>
<g id="d-n-alexander-yeh"><use href="#n7" x="468" y="530"/><text class="m" x="468" y="532.5">Alexander S. Yeh</text></g>
<g id="d-n-julia-schulz"><use href="#n7" x="460" y="537"/><text class="m" x="458" y="539.5">Julia Maria Schulz</text></g>
<g id="d-n-rosa-trinchese"><use href="#n7" x="533" y="520"/><text class="m" x="534" y="522.5">Rosa Trinchese</text></g>
<g id="d-n-emanuele-panizzi"><use href="#n7" x="537" y="530"/><text class="m" x="537" y="532.5">Emanuele Panizzi</text></g>
<g id="d-n-stefano-berretti"><use href="#n7" x="631" y="508"/><text class="m" x="631" y="510.5">Stefano Berretti</text></g>
<g id="d-n-thomas-lidy"><use href="#n7" x="615" y="516"/><text class="m" x="615" y="518.5">Thomas Lidy</text></g>
<g id="d-n-tobias-schreck"><use href="#n7" x="643" y="523"/><text class="m" x="643" y="525.5">Tobias Schreck</text></g>
<g id="d-n-michael-springmann"><use href="#n7" x="607" y="530"/><text class="m" x="606" y="532.5">Michael Springmann</text></g>
<g id="d-n-moira-norrie"><use href="#n7" x="653" y="537"/><text class="m" x="653" y="539.5">Moira C. Norrie</text></g>
<g id="d-n-daniel-keim"><use href="#n7" x="593" y="541"/><text class="m" x="593" y="543.5">Daniel A. Keim</text></g>
<g id="d-n-diego-milano"><use href="#n7" x="664" y="546"/><text class="m" x="665" y="548.5">Diego Milano</text></g>
<g id="d-n-beat-signer"><use href="#n7" x="598" y="550"/><text class="m" x="598" y="552.5">Beat Signer</text></g>
<g id="d-n-andreas-rauber"><use href="#n7" x="671" y="557"/><text class="m" x="671" y="559.5">Andreas Rauber</text></g>
<g id="d-n-gert-brettlecker"><use href="#n7" x="595" y="559"/><text class="m" x="596" y="561.5">Gert Brettlecker</text></g>
<g id="d-n-alberto-del-bimbo"><use href="#n7" x="608" y="569"/><text class="m" x="607" y="571.5">Alberto Del Bimbo</text></g>
<g id="d-n-hans-joerg-schek"><use href="#n7" x="643" y="580"/><text class="m" x="643" y="582.5">Hans-Jörg Schek</text></g>
<g id="d-n-heiko-schuldt"><use href="#n7" x="642" y="591"/><text class="m" x="642" y="593.5">Heiko Schuldt</text></g>
<g id="d-n-nicola-ferro"><use href="#n7" x="606" y="605"/><text class="m" x="606" y="607.5">Nicola Ferro</text></g>
<g id="d-n-maristella-agosti"><use href="#n7" x="597" y="623"/><text class="m red" x="597" y="625.5">Maristella Agosti</text></g>
<g id="d-n-fabio-schreiber"><use href="#n7" x="709" y="600"/><text class="m" x="708" y="602.5">Fabio A. Schreiber</text></g>
<g id="d-n-nicoletta-dessi"><use href="#n7" x="710" y="612"/><text class="m" x="710" y="614.5">Nicoletta Dessi</text></g>
<g id="d-n-mark-frisse"><use href="#n7" x="711" y="627"/><text class="m" x="712" y="629.5">Mark E. Frisse</text></g>
<g id="d-n-marie-france-bruandet"><use href="#n7" x="711" y="637"/><text class="m" x="712" y="639.5">Marie-France Bruandet</text></g>
<g id="d-n-giorgio-di-nunzio"><use href="#n7" x="458" y="563"/><text class="m" x="458" y="565.5">Giorgio Maria Di Nunzio</text></g>
<g id="d-n-riccardo-miotto"><use href="#n7" x="479" y="592"/><text class="m" x="481" y="594.5">Riccardo Miotto</text></g>
<g id="d-n-emanuele-di-buccio"><use href="#n7" x="485" y="601"/><text class="m" x="485" y="603.5">Emanuele Di Buccio</text></g>
<g id="d-n-nicola-orio"><use href="#n7" x="461" y="616"/><text class="m" x="461" y="618.5">Nicola Orio</text></g>
<g id="d-n-massimo-melucci"><use href="#n7" x="465" y="626"/><text class="m" x="465" y="628.5">Massimo Melucci</text></g>
<g id="d-n-norbert-fuhr"><use href="#n7" x="490" y="677"/><text class="m" x="490" y="679.5">Norbert Fuhr</text></g>
<g id="d-n-claus-peter-klas"><use href="#n7" x="493" y="685"/><text class="m" x="494" y="687.5">Claus-Peter Klas</text></g>
<g id="d-n-christos-papatheodorou"><use href="#n7" x="481" y="699"/><text class="m" x="482" y="701.5">Christos Papatheodorou</text></g>
<g id="d-n-andras-micsik"><use href="#n7" x="489" y="707"/><text class="m" x="489" y="709.5">András Micsik</text></g>
<g id="d-n-sarantos-kapidakis"><use href="#n7" x="484" y="728"/><text class="m" x="485" y="730.5">Sarantos Kapidakis</text></g>
<g id="d-n-laszlo-kovacs"><use href="#n7" x="479" y="736"/><text class="m" x="479" y="738.5">László Kovács</text></g>
<g id="d-n-giannis-tsakonas"><use href="#n7" x="493" y="743"/><text class="m" x="493" y="745.5">Giannis Tsakonas</text></g>
<g id="d-n-preben-hansen"><use href="#n7" x="483" y="748"/><text class="m" x="484" y="750.5">Preben Hansen</text></g>
<g id="d-n-ingeborg-solvberg"><use href="#n7" x="442" y="755"/><text class="m" x="442" y="757.5">Ingeborg Sølvberg</text></g>
<g id="d-n-trond-aalberg"><use href="#n7" x="449" y="763"/><text class="m" x="448" y="765.5">Trond Aalberg</text></g>
<g id="d-n-monica-landoni"><use href="#n7" x="544" y="773"/><text class="m" x="545" y="775.5">Monica Landoni</text></g>
<g id="d-n-jose-luis-borbinha"><use href="#n7" x="557" y="782"/><text class="m" x="558" y="784.5">José Luis Borbinha</text></g>
<g id="d-n-alan-smeaton"><use href="#n7" x="642" y="755"/><text class="m" x="642" y="757.5">Alan F. Smeaton</text></g>
<g id="d-n-donna-harman"><use href="#n7" x="647" y="763"/><text class="m" x="647" y="765.5">Donna Harman</text></g>
<g id="d-n-carol-peters"><use href="#n7" x="603" y="763"/><text class="m" x="602" y="765.5">Carol Peters</text></g>
<g id="d-n-maarten-de-rijke"><use href="#n7" x="635" y="776"/><text class="m" x="635" y="778.5">Maarten de Rijke</text></g>
<g id="d-n-emanuele-pianta"><use href="#n7" x="646" y="785"/><text class="m" x="646" y="787.5">Emanuele Pianta</text></g>
<g id="d-n-khalid-choukri"><use href="#n7" x="638" y="794"/><text class="m" x="638" y="796.5">Khalid Choukri</text></g>
<g id="d-n-martin-braschler"><use href="#n7" x="652" y="803"/><text class="m" x="653" y="805.5">Martin Braschler</text></g>
<g id="d-n-can-tuerker"><use href="#n7" x="661" y="649"/><text class="m" x="660" y="651.5">Can Türker</text></g>
<g id="d-n-gianmaria-silvello"><use href="#n7" x="657" y="658"/><text class="m" x="656" y="660.5">Gianmaria Silvello</text></g>
<g id="d-n-fabio-crestani"><use href="#n7" x="637" y="669"/><text class="m" x="638" y="671.5">Fabio Crestani</text></g>
<g id="d-n-udo-hahn"><use href="#n7" x="689" y="669"/><text class="m" x="690" y="671.5">Udo Hahn</text></g>
<g id="d-n-franco-crivellari"><use href="#n7" x="636" y="679"/><text class="m" x="636" y="681.5">Franco Crivellari</text></g>
<g id="d-n-roger-johnson"><use href="#n7" x="694" y="685"/><text class="m" x="695" y="687.5">Roger G. Johnson</text></g>
<g id="d-n-michela-bacchin"><use href="#n7" x="640" y="689"/><text class="m" x="640" y="691.5">Michela Bacchin</text></g>
<g id="d-n-costantino-thanos"><use href="#n7" x="688" y="695"/><text class="m" x="688" y="697.5">Costantino Thanos</text></g>
<g id="d-n-luca-pretto"><use href="#n7" x="643" y="701"/><text class="m" x="642" y="703.5">Luca Pretto</text></g>
<g id="d-n-pier-giorgio-marchetti"><use href="#n7" x="676" y="709"/><text class="m" x="676" y="711.5">Pier Giorgio Marchetti</text></g>
<g id="d-n-james-allan"><use href="#n7" x="666" y="718"/><text class="m" x="666" y="720.5">James Allan</text></g>
<text class="cap" x="584" y="858" textLength="88" lengthAdjust="spacingAndGlyphs">(d) 2010</text>
</g>
</svg>
